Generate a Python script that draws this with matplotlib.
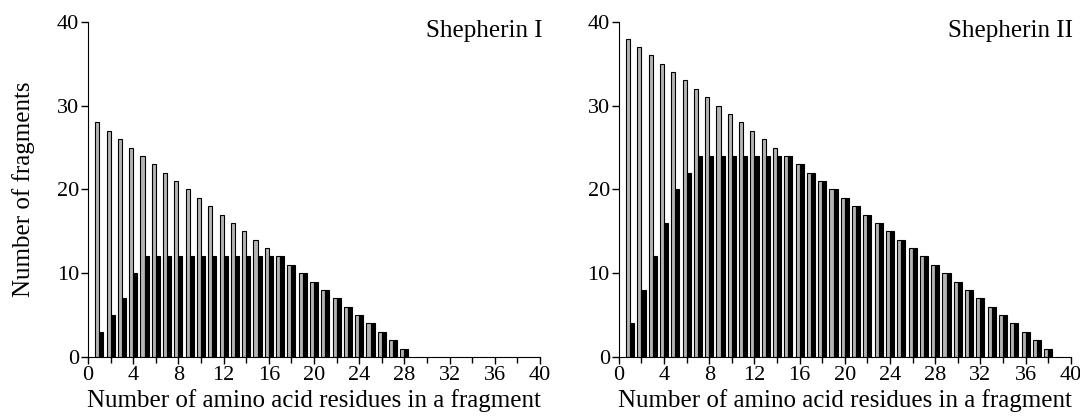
import numpy as np
import matplotlib.pyplot as plt
from matplotlib.ticker import MultipleLocator

plt.rcParams['font.family'] = ['Liberation Serif', 'DejaVu Serif']

# Shepherin I: residues 1..28
len_1 = list(range(1, 29))
gray_1 = [28, 27, 26, 25, 24, 23, 22, 21, 20, 19, 18, 17, 16, 15, 14, 13, 12, 11, 10, 9,
          8, 7, 6, 5, 4, 3, 2, 1]
black_1 = [3, 5, 7, 10, 12, 12, 12, 12, 12, 12, 12, 12, 12, 12, 12, 12, 12, 11, 10, 9,
           8, 7, 6, 5, 4, 3, 2, 1]

# Shepherin II: residues 1..38
len_2 = list(range(1, 39))
gray_2 = [38, 37, 36, 35, 34, 33, 32, 31, 30, 29, 28, 27, 26, 25, 24, 23, 22, 21, 20, 19,
          18, 17, 16, 15, 14, 13, 12, 11, 10, 9, 8, 7, 6, 5, 4, 3, 2, 1]
black_2 = [4, 8, 12, 16, 20, 22, 24, 24, 24, 24, 24, 24, 24, 24, 24, 23, 22, 21, 20, 19,
           18, 17, 16, 15, 14, 13, 12, 11, 10, 9, 8, 7, 6, 5, 4, 3, 2, 1]

fig = plt.figure(figsize=(10.8, 4.2), dpi=100)
ax1 = fig.add_axes([0.0815, 0.150, 0.4185, 0.798])
ax2 = fig.add_axes([0.573, 0.150, 0.4185, 0.798])

w = 0.36
for ax, x, g, b, name in [(ax1, len_1, gray_1, black_1, 'Shepherin I'),
                          (ax2, len_2, gray_2, black_2, 'Shepherin II')]:
    x = np.array(x)
    ax.bar(x - w, g, width=w, align='edge', color='#b4b4b4', edgecolor='black', linewidth=0.8)
    ax.bar(x, b, width=w, align='edge', color='black', edgecolor='black', linewidth=0.8)
    ax.set_xlim(0, 40)
    ax.set_ylim(0, 40)
    ax.xaxis.set_major_locator(MultipleLocator(4))
    ax.xaxis.set_minor_locator(MultipleLocator(2))
    ax.yaxis.set_major_locator(MultipleLocator(10))
    ax.spines['top'].set_visible(False)
    ax.spines['right'].set_visible(False)
    ax.tick_params(axis='both', which='major', direction='out', length=5, width=1, labelsize=16, pad=1.5)
    ax.tick_params(axis='x', which='minor', direction='out', length=4, width=1)
    ax.set_xlabel('Number of amino acid residues in a fragment', fontsize=18, labelpad=3)
    ax.text(1.005, 1.005, name, transform=ax.transAxes, ha='right', va='top', fontsize=18)

ax1.set_ylabel('Number of fragments', fontsize=18, labelpad=16)

fig.savefig('out.png', dpi=100)
